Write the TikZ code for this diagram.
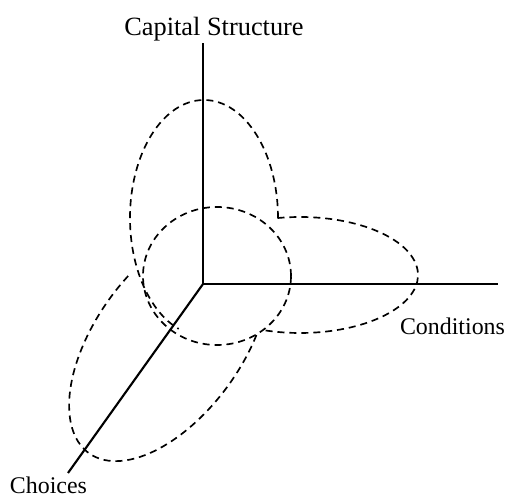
\documentclass[tikz,border=0pt]{standalone}
\usepackage{fontspec}
\setmainfont{Liberation Serif}
\usetikzlibrary{positioning}

\begin{document}
\begin{tikzpicture}[
    axis/.style={line width=1.2pt},
    lobe/.style={line width=0.95pt, dash pattern=on 4pt off 2.8pt},
    lbl/.style={anchor=base, inner sep=0pt, font=\fontsize{13.6}{16}\selectfont},
]
\useasboundingbox (-4.06,-4.28) rectangle (6.06,5.68);

% Axes
\coordinate (o) at (0,0);
\coordinate (cs) at (0,4.82);
\coordinate (cond) at (5.9,0);
\coordinate (ch) at (-2.7,-3.78);
\draw[axis] (o) -- (cs);
\draw[axis] (o) -- (cond);
\draw[axis] (o) -- (ch);

% Axis labels
\node[lbl, font=\fontsize{15}{18}\selectfont] (cslabel) at (0.22,4.96) {Capital Structure};
\node[lbl] (condlabel) at (4.99,-1.02) {Conditions};
\node[lbl] (chlabel) at (-3.09,-4.19) {Choices};

% Central circle
\draw[lobe] (0.28,0.16) ellipse [x radius=1.48, y radius=1.38];

% Lobes
\draw[lobe] (0.02,1.32) ++(0:1.48 and 2.36) arc[start angle=0, end angle=250, x radius=1.48, y radius=2.36];
\draw[lobe] (1.94,0.18) ++(101:2.36 and 1.16) arc[start angle=101, end angle=-109, x radius=2.36, y radius=1.16];
\draw[lobe, shift={(-0.68,-1.16)}, rotate=234.2] (114.5:2.74 and 1.47) arc[start angle=114.5, end angle=-103.4, x radius=2.74, y radius=1.47];

\end{tikzpicture}
\end{document}
